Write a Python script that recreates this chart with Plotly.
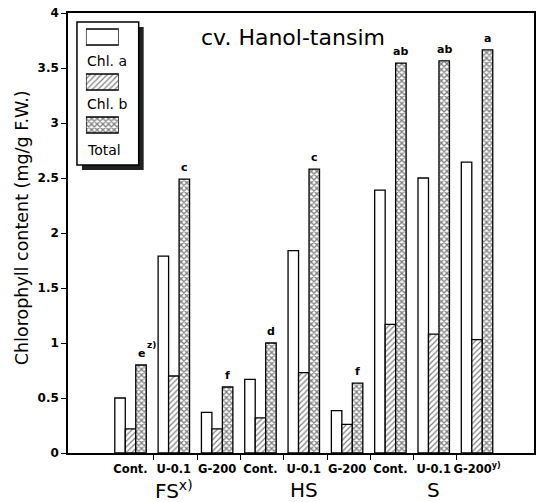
import numpy as np
import plotly.graph_objects as go

# ---------------- data ----------------
treatments = ["Cont.", "U-0.1", "G-200",
              "Cont.", "U-0.1", "G-200",
              "Cont.", "U-0.1", "G-200<sup>y)</sup>"]
groups = ["FS<sup>x)</sup>", "HS", "S"]
chl_a = [0.50, 1.79, 0.37, 0.67, 1.84, 0.385, 2.39, 2.50, 2.645]
chl_b = [0.22, 0.70, 0.22, 0.32, 0.73, 0.26, 1.17, 1.08, 1.03]
total = [0.80, 2.49, 0.60, 1.00, 2.58, 0.635, 3.545, 3.565, 3.665]
letters = ["e", "c", "f", "d", "c", "f", "ab", "ab", "a"]
letter_sups = ["z)", "", "", "", "", "", "", "", ""]
series_names = ["Chl. a", "Chl. b", "Total"]
y_ticks = [0, 0.5, 1, 1.5, 2, 2.5, 3, 3.5, 4]
y_ticktext = ["0", "0.5", "1", "1.5", "2", "2.5", "3", "3.5", "4"]

# ---------------- layout constants ----------------
W, H = 537, 502
ML, MR, MT, MB = 68, 1, 13, 49
PW, PH = W - ML - MR, H - MT - MB
FONT = "DejaVu Sans"
BW = 0.242  # bar width in slot units
offs = [0.121, 0.363, 0.605]

def px(xp):  # pixel x -> paper
    return (xp - ML) / PW

def py(yp):  # pixel y -> paper
    return (H - MB - yp) / PH

xs = np.arange(len(chl_a))
edge = dict(color="black", width=1.3)

fig = go.Figure()
styles = [
    dict(color="white", line=edge),
    dict(color="white", line=edge,
         pattern=dict(shape="/", size=4, solidity=0.3, fgcolor="black", bgcolor="white")),
    dict(color="white", line=edge,
         pattern=dict(shape="x", size=4, solidity=0.55, fgcolor="black", bgcolor="white")),
]
for vals, off, st, nm in zip([chl_a, chl_b, total], offs, styles, series_names):
    fig.add_trace(go.Bar(x=xs + off, y=vals, width=BW, marker=st, name=nm,
                         showlegend=False))

# legend swatches drawn as bars in an inset axis
sw_y = [37, 82, 125]
for yy, st, nm in zip(sw_y, styles, series_names):
    fig.add_trace(go.Bar(x=[1], y=[yy], base=0, width=16, orientation="h",
                         marker=st, xaxis="x2", yaxis="y2", showlegend=False))

annotations = []
# significance letters
for i, (t, l, s) in enumerate(zip(total, letters, letter_sups)):
    annotations.append(dict(x=xs[i] + offs[2], y=t, text=l, showarrow=False,
                            xanchor="center", yanchor="bottom", yshift=3,
                            font=dict(family=FONT, size=11, color="black", weight="bold")))
    if s:
        annotations.append(dict(x=xs[i] + offs[2], y=t, text=s, showarrow=False,
                                xanchor="left", yanchor="bottom", xshift=4, yshift=13,
                                font=dict(family=FONT, size=9, color="black", weight="bold")))
# group labels
for g, gi in zip(groups, [1, 4, 7]):
    annotations.append(dict(x=xs[gi] + offs[1], xref="x", y=py(490), yref="paper",
                            text=g, showarrow=False, xanchor="center", yanchor="middle",
                            font=dict(family=FONT, size=20, color="black")))
# titles
annotations.append(dict(x=px(294), y=py(38), xref="paper", yref="paper",
                        text="cv. Hanol-tansim", showarrow=False,
                        xanchor="center", yanchor="middle",
                        font=dict(family=FONT, size=22, color="black")))
annotations.append(dict(x=px(22), y=py(228), xref="paper", yref="paper",
                        text="Chlorophyll content (mg/g F.W.)", textangle=-90,
                        showarrow=False, xanchor="center", yanchor="middle",
                        font=dict(family=FONT, size=17.5, color="black")))
# legend texts
for nm, yy in zip(series_names, [61, 104, 150]):
    annotations.append(dict(x=px(85), y=py(yy), xref="paper", yref="paper",
                            text=nm, showarrow=False, xanchor="left", yanchor="middle",
                            font=dict(family=FONT, size=14, color="black")))

shapes = [
    dict(type="rect", xref="paper", yref="paper", x0=px(82), x1=px(144),
         y0=py(170), y1=py(27), fillcolor="#222", line=dict(width=0), layer="below"),
    dict(type="rect", xref="paper", yref="paper", x0=px(77), x1=px(139),
         y0=py(165), y1=py(22), fillcolor="white", line=dict(color="black", width=1.5),
         layer="below"),
]

fig.update_layout(
    width=W, height=H,
    margin=dict(l=ML, r=MR, t=MT, b=MB, pad=0),
    paper_bgcolor="white", plot_bgcolor="rgba(0,0,0,0)",
    barmode="overlay",
    showlegend=False,
    annotations=annotations,
    shapes=shapes,
    xaxis=dict(range=[(ML - 115) / 43.5, (W - MR - 115) / 43.5],
               tickmode="array", tickvals=list(xs + offs[1]), ticktext=treatments,
               tickangle=0,
               ticks="outside", ticklen=4, tickcolor="rgba(0,0,0,0)",
               tickfont=dict(family=FONT, size=11.5, color="black", weight="bold"),
               showline=True, linecolor="black", linewidth=1.5, mirror=True,
               showgrid=False, zeroline=False,
               minor=dict(tickmode="array", tickvals=list(xs[1:] - 0.1),
                          ticks="outside", ticklen=5, tickcolor="black", tickwidth=1.3,
                          showgrid=False)),
    yaxis=dict(range=[0, 4], tickmode="array", tickvals=y_ticks, ticktext=y_ticktext,
               ticks="outside", ticklen=5, tickcolor="black", tickwidth=1.3,
               tickfont=dict(family=FONT, size=12, color="black", weight="bold"),
               showline=True, linecolor="black", linewidth=1.5, mirror=True,
               showgrid=False, zeroline=False),
    xaxis2=dict(domain=[px(86), px(119)], range=[0, 1], visible=False, anchor="y2",
                fixedrange=True),
    yaxis2=dict(domain=[py(137), py(28)], range=[137, 28], visible=False, anchor="x2",
                fixedrange=True),
)

fig.write_html("out.html")
